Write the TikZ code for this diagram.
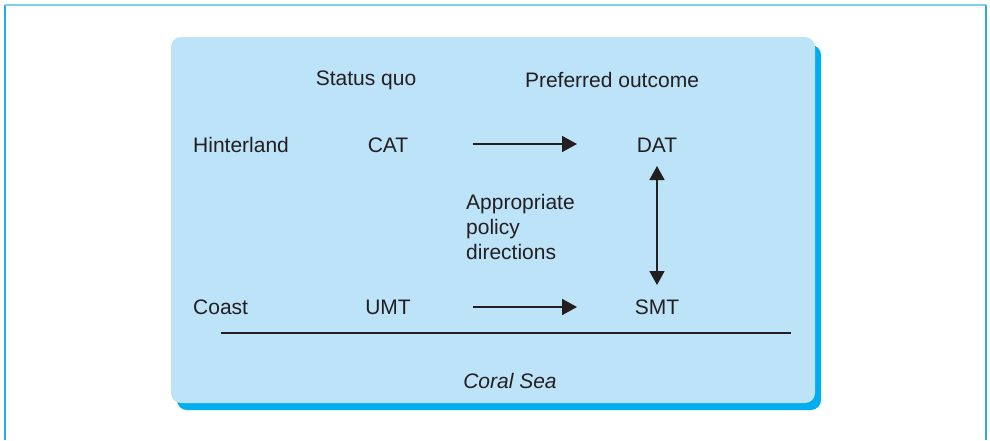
\documentclass[tikz,border=0pt]{standalone}
\usepackage{fontspec}
\setmainfont{Liberation Sans}
\usetikzlibrary{arrows.meta}
\definecolor{boxfill}{HTML}{BDE3F8}
\definecolor{shadowblue}{HTML}{00AEEF}
\definecolor{framebluel}{HTML}{29ABE2}
\definecolor{framebluet}{HTML}{7FD0F0}
\definecolor{ink}{HTML}{231F20}
\tikzset{
  lbl/.style={font=\fontsize{21}{25}\selectfont, text=ink, inner sep=0pt},
  arr/.style={draw=ink, line width=1.7pt, -{Triangle[length=15pt,width=16pt]}},
  darr/.style={draw=ink, line width=1.7pt, {Triangle[length=14pt,width=15pt]}-{Triangle[length=14pt,width=15pt]}},
}
\begin{document}
\begin{tikzpicture}[x=1pt,y=-1pt]
\useasboundingbox (0,0) rectangle (990,440);
% outer frame
\draw[framebluel, line width=2pt] (5,440) -- (5,5);
\draw[framebluet, line width=2pt] (5,5) -- (986,5);
\draw[framebluel, line width=2pt] (986,5) -- (986,440);
% box with shadow
\fill[shadowblue, rounded corners=10pt] (177,45) rectangle (821,410);
\fill[boxfill, rounded corners=10pt] (171,37) rectangle (815,403);
% headers
\node[lbl] (sq) at (366,80) {Status quo};
\node[lbl] (po) at (612,80) {Preferred outcome};
% rows
\node[lbl, anchor=west] (hin) at (193,145) {Hinterland};
\node[lbl] (cat) at (388,145) {CAT};
\node[lbl] (dat) at (657,145) {DAT};
\node[lbl, anchor=west] (coast) at (193,307) {Coast};
\node[lbl] (umt) at (388,307) {UMT};
\node[lbl] (smt) at (657,307) {SMT};
\node[lbl, anchor=west, align=left] (apd) at (466,227) {Appropriate\\policy\\directions};
% arrows
\coordinate (a1s) at (473,144);
\coordinate (a1e) at (577,144);
\coordinate (a2s) at (473,307);
\coordinate (a2e) at (577,307);
\coordinate (vs) at (657,166);
\coordinate (ve) at (657,285);
\draw[arr] (a1s) -- (a1e);
\draw[arr] (a2s) -- (a2e);
\draw[darr] (vs) -- (ve);
% coast line
\coordinate (cl1) at (221,333);
\coordinate (cl2) at (791,333);
\draw[ink, line width=1.7pt] (cl1) -- (cl2);
\node[lbl, font=\fontsize{21}{25}\selectfont\itshape] (cs) at (510,381) {Coral Sea};
\end{tikzpicture}
\end{document}
